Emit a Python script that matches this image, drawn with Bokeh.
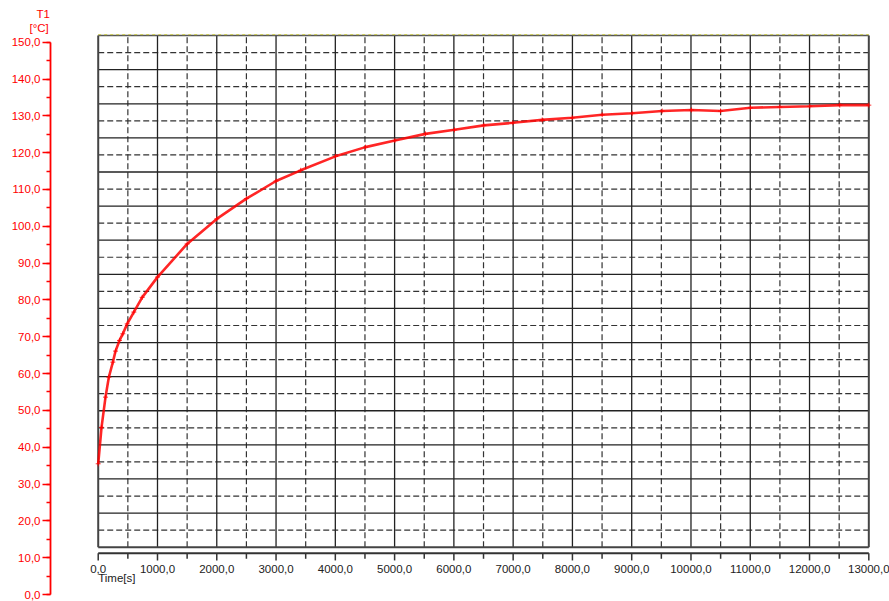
import numpy as np
from bokeh.plotting import figure
from bokeh.models import (LinearAxis, SingleIntervalTicker, CustomJSTickFormatter,
                          Range1d, Title)
from bokeh.core.properties import value
from bokeh.embed import file_html
from bokeh.resources import INLINE

# ---- data ----
time_s = [0, 56, 123, 179, 247, 292, 359, 415, 489, 601, 742, 1000, 1500, 2000,
          2500, 3000, 3416, 4003, 4509, 5004, 5521, 6011, 6505, 6994, 7490, 7996,
          8502, 9008, 9514, 10008, 10498, 11004, 11498, 12004, 12510, 13000]
t1_c = [35.5, 45.4, 53.6, 59.0, 63.1, 66.1, 69.0, 70.8, 73.5, 76.7, 80.7, 86.2,
        95.2, 102.0, 107.5, 112.3, 115.2, 119.0, 121.5, 123.3, 125.1, 126.2, 127.4,
        128.1, 128.9, 129.5, 130.3, 130.7, 131.3, 131.6, 131.3, 132.2, 132.4,
        132.6, 132.9, 132.9]

x_ticks = [0, 1000, 2000, 3000, 4000, 5000, 6000, 7000, 8000, 9000, 10000,
           11000, 12000, 13000]
x_tick_labels = ["0,0", "1000,0", "2000,0", "3000,0", "4000,0", "5000,0",
                 "6000,0", "7000,0", "8000,0", "9000,0", "10000,0", "11000,0",
                 "12000,0", "13000,0"]
x_minor_ticks = [500, 1500, 2500, 3500, 4500, 5500, 6500, 7500, 8500, 9500,
                 10500, 11500, 12500]

# ---- layout / style constants ----
FONT = "Liberation Sans"
FS = "11.5px"
RED = "#ff0000"
box_bottom, box_top = 12.85, 151.8
x_axis_y = 11.2
n_rows = 15

p = figure(width=889, height=601, output_backend="svg", toolbar_location=None,
           title=None,
           x_range=Range1d(-805, 13349), y_range=Range1d(-1.90, 152.36),
           x_axis_location=None, y_axis_location=None,
           min_border_left=50, min_border_right=0, min_border_top=33,
           min_border_bottom=0)
p.outline_line_color = None
p.background_fill_color = "white"
p.border_fill_color = "white"
p.grid.visible = False

# grid box
row_h = (box_top - box_bottom) / n_rows
solid_h = [box_bottom + i * row_h for i in range(1, n_rows)]
dash_h = [box_bottom + (i - 0.5) * row_h for i in range(1, n_rows + 1)]
x0, x1 = x_ticks[0], x_ticks[-1]

p.segment(x0=[x0] * len(dash_h), x1=[x1] * len(dash_h), y0=dash_h, y1=dash_h,
          line_color="#333333", line_width=1.2, line_dash="6 3")
p.segment(x0=x_minor_ticks, x1=x_minor_ticks, y0=[box_bottom] * len(x_minor_ticks),
          y1=[box_top] * len(x_minor_ticks), line_color="#333333", line_width=1.2,
          line_dash="6 3")
p.segment(x0=[x0] * len(solid_h), x1=[x1] * len(solid_h), y0=solid_h, y1=solid_h,
          line_color="#222222", line_width=1.3)
p.segment(x0=x_ticks[1:-1], x1=x_ticks[1:-1], y0=[box_bottom] * (len(x_ticks) - 2),
          y1=[box_top] * (len(x_ticks) - 2), line_color="#222222", line_width=1.3)
# borders
p.segment(x0=[x0, x1, x0], x1=[x0, x1, x1], y0=[box_bottom, box_bottom, box_bottom],
          y1=[box_top, box_top, box_bottom], line_color="#444444", line_width=2)
p.segment(x0=[x0], x1=[x1], y0=[box_top], y1=[box_top], line_color="#555555",
          line_width=1.5)
p.segment(x0=[x0], x1=[x1], y0=[box_top + 0.25], y1=[box_top + 0.25],
          line_color="#c9c94a", line_width=1, line_dash="3 3")

# x axis (drawn separately below the box)
p.segment(x0=[x0], x1=[x1], y0=[x_axis_y], y1=[x_axis_y], line_color="#333333",
          line_width=2)
p.segment(x0=x_ticks, x1=x_ticks, y0=[x_axis_y] * len(x_ticks),
          y1=[9.25] * len(x_ticks), line_color="#333333", line_width=1.5)
p.segment(x0=x_minor_ticks, x1=x_minor_ticks, y0=[x_axis_y] * len(x_minor_ticks),
          y1=[9.7] * len(x_minor_ticks), line_color="#333333", line_width=1.5)
p.text(x=x_ticks, y=[8.0] * len(x_ticks), text=x_tick_labels,
       text_font=value(FONT), text_font_size=FS, text_color="#222222",
       text_align="center", text_baseline="top")
p.text(x=[0], y=[4.4], text=["Time[s]"], text_font=value(FONT),
       text_font_size=FS, text_color="#222222", text_align="left",
       text_baseline="middle")

# curve
p.line(time_s, t1_c, line_color=RED, line_width=2.6, line_alpha=0.85)
p.scatter(time_s, t1_c, marker="cross", size=5, line_color=RED,
          line_width=1, line_alpha=0.8)

# red y axis
yaxis = LinearAxis(ticker=SingleIntervalTicker(interval=10, num_minor_ticks=2),
                   formatter=CustomJSTickFormatter(
                       code="return tick.toFixed(1).replace('.', ',');"),
                   bounds=(0, 150))
yaxis.axis_line_color = RED
yaxis.axis_line_width = 1.8
yaxis.major_tick_line_color = RED
yaxis.major_tick_line_width = 1.5
yaxis.major_tick_out = 8
yaxis.major_tick_in = 0
yaxis.minor_tick_line_color = RED
yaxis.minor_tick_line_width = 1.5
yaxis.minor_tick_out = 4
yaxis.minor_tick_in = 0
yaxis.major_label_text_color = RED
yaxis.major_label_text_font = FONT
yaxis.major_label_text_font_size = FS
yaxis.major_label_standoff = 2
p.add_layout(yaxis, "left")

# axis title "T1 [°C]" above the red axis
p.add_layout(Title(text="[°C]", align="left", offset=-21, standoff=0,
                   text_color=RED, text_font=FONT, text_font_size=FS,
                   text_font_style="normal"), "above")
p.add_layout(Title(text="T1", align="left", offset=-14, standoff=0,
                   text_color=RED, text_font=FONT, text_font_size=FS,
                   text_font_style="normal"), "above")

open("out.html", "w").write(file_html(p, INLINE))
